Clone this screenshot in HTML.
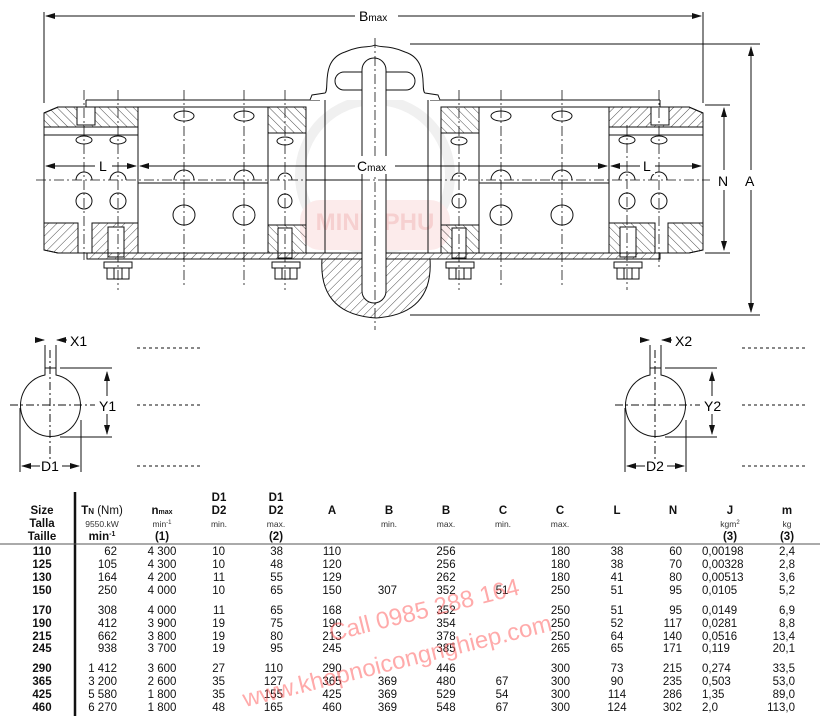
<!DOCTYPE html>
<html><head><meta charset="utf-8"><style>
html,body{margin:0;padding:0;background:#fff;}
body{width:820px;height:725px;position:relative;overflow:hidden;font-family:"Liberation Sans",sans-serif;}
svg{position:absolute;left:0;top:0;}
.t{font-family:"Liberation Sans",sans-serif;font-size:11.5px;fill:#111;}
.b{font-weight:bold;}
.s{font-size:8.5px;fill:#333;}
</style></head><body>
<svg width="820" height="725" viewBox="0 0 820 725">
<defs>
<pattern id="h" width="6" height="6" patternUnits="userSpaceOnUse" patternTransform="rotate(45)"><line x1="0" y1="0" x2="0" y2="6" stroke="#222" stroke-width="0.8"/></pattern>
<pattern id="h2" width="6" height="6" patternUnits="userSpaceOnUse" patternTransform="rotate(-45)"><line x1="0" y1="0" x2="0" y2="6" stroke="#222" stroke-width="0.8"/></pattern>
<marker id="a" markerWidth="10" markerHeight="6" refX="9" refY="3" orient="auto-start-reverse"><path d="M0,0 L10,3 L0,6z" fill="#111"/></marker>
</defs>
<!-- faint logo -->
<circle cx="375" cy="175" r="75" fill="none" stroke="#f0f0f0" stroke-width="10"/>
<rect x="300" y="200" width="150" height="50" rx="20" fill="#fcebeb"/>
<text x="375" y="230" text-anchor="middle" font-size="24" font-weight="bold" fill="#f6d0d0" font-family="Liberation Sans">MINH PHU</text>
<g stroke="#111" stroke-width="1" fill="none">
<!-- Bmax -->
<line x1="44" y1="12" x2="44" y2="103"/>
<line x1="703" y1="12" x2="703" y2="103"/>
<line x1="46" y1="16" x2="355" y2="16" marker-start="url(#a)"/>
<line x1="398" y1="16" x2="701" y2="16" marker-end="url(#a)"/>
<!-- A -->
<line x1="410" y1="44" x2="760" y2="44"/>
<line x1="410" y1="315" x2="760" y2="315"/>
<line x1="751" y1="47" x2="751" y2="170" marker-start="url(#a)"/>
<line x1="751" y1="190" x2="751" y2="312" marker-end="url(#a)"/>
<!-- N -->
<line x1="705" y1="105" x2="730" y2="105"/>
<line x1="705" y1="253" x2="730" y2="253"/>
<line x1="724" y1="108" x2="724" y2="170" marker-start="url(#a)"/>
<line x1="724" y1="190" x2="724" y2="250" marker-end="url(#a)"/>
<!-- sleeve top line -->
<line x1="86" y1="100" x2="320" y2="100"/>
<line x1="86" y1="100" x2="86" y2="107"/>
<line x1="430" y1="100" x2="660" y2="100"/>
<line x1="660" y1="100" x2="660" y2="107"/>
<!-- left hub -->
<path d="M44,113 L58,107 L138,107 L138,253 L58,253 L44,250z"/>
<path d="M44,113 L58,107 L138,107 L138,127 L44,127z" fill="url(#h2)"/>
<line x1="44" y1="135" x2="138" y2="135"/>
<rect x="77" y="107" width="18" height="18" fill="#fff"/>
<path d="M44,223 L78,223 L78,253 L58,253 L44,250z" fill="url(#h)"/>
<rect x="92" y="223" width="46" height="30" fill="url(#h)"/>
<rect x="108" y="227" width="16" height="30" fill="#fff"/>
<!-- middle left block -->
<rect x="138" y="107" width="130" height="146"/>
<line x1="138" y1="183" x2="268" y2="183"/>
<!-- flange left -->
<rect x="268" y="107" width="38" height="146"/>
<rect x="268" y="107" width="38" height="26" fill="url(#h2)"/>
<rect x="268" y="225" width="38" height="28" fill="url(#h2)"/>
<rect x="278" y="228" width="14" height="30" fill="#fff"/>
<!-- right flange -->
<rect x="441" y="107" width="38" height="146"/>
<rect x="441" y="107" width="38" height="26" fill="url(#h2)"/>
<rect x="441" y="225" width="38" height="28" fill="url(#h2)"/>
<rect x="452" y="228" width="14" height="30" fill="#fff"/>
<!-- middle right -->
<rect x="479" y="107" width="130" height="146"/>
<line x1="479" y1="183" x2="609" y2="183"/>
<!-- right hub -->
<path d="M703,113 L689,107 L609,107 L609,253 L689,253 L703,250z"/>
<path d="M703,113 L689,107 L609,107 L609,127 L703,127z" fill="url(#h)"/>
<line x1="609" y1="135" x2="703" y2="135"/>
<rect x="651" y="107" width="18" height="18" fill="#fff"/>
<rect x="609" y="223" width="46" height="30" fill="url(#h2)"/>
<rect x="620" y="227" width="16" height="30" fill="#fff"/>
<path d="M668,223 L703,223 L703,250 L689,253 L668,253z" fill="url(#h2)"/>
<line x1="655" y1="223" x2="655" y2="253"/><line x1="668" y1="223" x2="668" y2="253"/>
<!-- center tubes -->
<line x1="306" y1="107" x2="306" y2="253"/><line x1="325" y1="100" x2="325" y2="253"/>
<line x1="441" y1="107" x2="441" y2="253"/><line x1="428" y1="100" x2="428" y2="253"/>
<line x1="306" y1="180" x2="441" y2="180"/>
<!-- top bump -->
<path d="M310,100 L312,95 L325,93 C330,90 320,60 345,52 C360,45 370,48 375,45 C380,48 390,45 405,52 C430,60 420,90 425,93 L438,95 L440,100" fill="#fff"/>
<rect x="335" y="72" width="80" height="18" rx="9" fill="#fff"/>
<!-- base plate -->
<rect x="87" y="253" width="573" height="6" fill="url(#h)"/>
<!-- bulb -->
<path d="M322,259 L430,259 C432,290 420,315 376,318 C332,315 320,290 322,259z" fill="url(#h)"/>
<rect x="362" y="58" width="24" height="245" rx="12" fill="#fff"/>
<!-- bolts -->
<g id="bolt">
<rect x="104" y="262" width="28" height="6"/><rect x="107" y="268" width="22" height="11"/><line x1="114" y1="268" x2="114" y2="279"/><line x1="122" y1="268" x2="122" y2="279"/>
</g>
<use href="#bolt" x="168"/><use href="#bolt" x="342"/><use href="#bolt" x="510"/>
</g>
<!-- holes -->
<g stroke="#111" stroke-width="1" fill="#fff">
<ellipse cx="84" cy="140" rx="8" ry="4"/><ellipse cx="118" cy="140" rx="8" ry="4"/>
<path d="M76,180 a8,8 0 0 1 16,0"/><path d="M110,180 a8,8 0 0 1 16,0"/>
<circle cx="84" cy="201" r="8"/><circle cx="118" cy="201" r="8"/>
<ellipse cx="184" cy="116" rx="10" ry="5"/><ellipse cx="244" cy="116" rx="10" ry="5"/>
<path d="M174,180 a10,10 0 0 1 20,0"/><path d="M234,180 a10,10 0 0 1 20,0"/>
<ellipse cx="184" cy="215" rx="11" ry="10"/><ellipse cx="244" cy="215" rx="11" ry="10"/>
<ellipse cx="285" cy="141" rx="8" ry="4"/><path d="M278,180 a7,7 0 0 1 14,0"/><circle cx="285" cy="201" r="7"/>
<ellipse cx="459" cy="141" rx="8" ry="4"/><path d="M452,180 a7,7 0 0 1 14,0"/><circle cx="459" cy="201" r="7"/>
<ellipse cx="501" cy="116" rx="10" ry="5"/><ellipse cx="562" cy="116" rx="10" ry="5"/>
<path d="M491,180 a10,10 0 0 1 20,0"/><path d="M552,180 a10,10 0 0 1 20,0"/>
<ellipse cx="501" cy="215" rx="11" ry="10"/><ellipse cx="562" cy="215" rx="11" ry="10"/>
<ellipse cx="627" cy="140" rx="8" ry="4"/><ellipse cx="659" cy="140" rx="8" ry="4"/>
<path d="M619,180 a8,8 0 0 1 16,0"/><path d="M651,180 a8,8 0 0 1 16,0"/>
<circle cx="627" cy="201" r="8"/><circle cx="659" cy="201" r="8"/>
</g>
<!-- center lines -->
<g stroke="#111" stroke-width="0.8" stroke-dasharray="10,3,2,3" fill="none">
<line x1="36" y1="180" x2="710" y2="180"/>
<line x1="375" y1="38" x2="375" y2="330"/>
<line x1="84" y1="90" x2="84" y2="260"/><line x1="118" y1="90" x2="118" y2="290"/>
<line x1="184" y1="90" x2="184" y2="285"/><line x1="244" y1="90" x2="244" y2="285"/>
<line x1="285" y1="90" x2="285" y2="290"/><line x1="459" y1="90" x2="459" y2="290"/>
<line x1="501" y1="90" x2="501" y2="285"/><line x1="562" y1="90" x2="562" y2="285"/>
<line x1="627" y1="125" x2="627" y2="290"/><line x1="659" y1="90" x2="659" y2="270"/>
</g>
<!-- L and Cmax dims -->
<g stroke="#111" stroke-width="1">
<line x1="46" y1="166" x2="95" y2="166" marker-start="url(#a)"/>
<line x1="112" y1="166" x2="136" y2="166" marker-end="url(#a)"/>
<line x1="140" y1="166" x2="355" y2="166" marker-start="url(#a)"/>
<line x1="395" y1="166" x2="607" y2="166" marker-end="url(#a)"/>
<line x1="611" y1="166" x2="640" y2="166" marker-start="url(#a)"/>
<line x1="655" y1="166" x2="701" y2="166" marker-end="url(#a)"/>
</g>
<g fill="#fff"><rect x="356" y="8" width="40" height="16"/><rect x="356" y="156" width="38" height="18"/><rect x="96" y="158" width="14" height="16"/><rect x="641" y="158" width="14" height="16"/></g>
<text x="359" y="21" font-size="14" font-family="Liberation Sans">B<tspan font-size="10">max</tspan></text>
<text x="357" y="171" font-size="14" font-family="Liberation Sans">C<tspan font-size="10">max</tspan></text>
<text x="99" y="171" font-size="14" font-family="Liberation Sans">L</text>
<text x="643" y="171" font-size="14" font-family="Liberation Sans">L</text>
<text x="718" y="186" font-size="14" font-family="Liberation Sans" style="paint-order:stroke" stroke="#fff" stroke-width="4">N</text>
<text x="745" y="186" font-size="14" font-family="Liberation Sans" style="paint-order:stroke" stroke="#fff" stroke-width="4">A</text>
<!-- shaft sections -->
<g stroke="#111" stroke-width="1" fill="none" id="sh">
<path d="M45,375 L45,368 L56,368 L56,375 A30,31 0 1 1 45,375z"/>
<line x1="45" y1="345" x2="45" y2="368"/><line x1="56" y1="345" x2="56" y2="368"/>
<line x1="35" y1="340" x2="44" y2="340" marker-end="url(#a)"/><line x1="67" y1="340" x2="57" y2="340" marker-end="url(#a)"/>
<line x1="60" y1="368" x2="112" y2="368"/><line x1="60" y1="437" x2="112" y2="437"/>
<line x1="107" y1="372" x2="107" y2="396" marker-start="url(#a)"/><line x1="107" y1="414" x2="107" y2="434" marker-end="url(#a)"/>
<line x1="20" y1="408" x2="20" y2="472"/><line x1="81" y1="420" x2="81" y2="472"/>
<line x1="22" y1="466" x2="40" y2="466" marker-start="url(#a)"/><line x1="62" y1="466" x2="79" y2="466" marker-end="url(#a)"/>
<g stroke-dasharray="8,3,2,3"><line x1="10" y1="405" x2="95" y2="405"/><line x1="50" y1="350" x2="50" y2="460"/></g>
<g stroke-dasharray="3,3"><line x1="137" y1="348" x2="200" y2="348"/><line x1="137" y1="405" x2="200" y2="405"/><line x1="137" y1="466" x2="200" y2="466"/></g>
</g>
<use href="#sh" x="605"/>
<g font-family="Liberation Sans" font-size="14">
<text x="70" y="346">X1</text><text x="99" y="411" style="paint-order:stroke" stroke="#fff" stroke-width="4">Y1</text><text x="41" y="471" style="paint-order:stroke" stroke="#fff" stroke-width="4">D1</text>
<text x="675" y="346">X2</text><text x="704" y="411" style="paint-order:stroke" stroke="#fff" stroke-width="4">Y2</text><text x="646" y="471" style="paint-order:stroke" stroke="#fff" stroke-width="4">D2</text>
</g>
<!-- table -->
<line x1="75" y1="492" x2="75" y2="716" stroke="#111" stroke-width="2.5"/>
<line x1="0" y1="544" x2="820" y2="544" stroke="#555" stroke-width="1"/>
<g class="t">
<text class="b" x="42" y="514" text-anchor="middle">Size</text>
<text class="b" x="42" y="527" text-anchor="middle">Talla</text>
<text class="b" x="42" y="540" text-anchor="middle">Taille</text>
<text x="102" y="514" text-anchor="middle"><tspan class="b">T<tspan font-size="8">N</tspan></tspan> (Nm)</text>
<text class="s" x="102" y="527" text-anchor="middle">9550.kW</text>
<text class="b" x="102" y="540" text-anchor="middle">min<tspan font-size="7" dy="-4">-1</tspan></text>
<text class="b" x="162" y="514" text-anchor="middle">n<tspan font-size="7">max</tspan></text>
<text class="s" x="162" y="527" text-anchor="middle">min<tspan font-size="6" dy="-3">-1</tspan></text>
<text class="b" x="162" y="540" text-anchor="middle">(1)</text>
<text class="b" x="219" y="501" text-anchor="middle">D1</text><text class="b" x="219" y="514" text-anchor="middle">D2</text><text class="s" x="219" y="527" text-anchor="middle">min.</text>
<text class="b" x="276" y="501" text-anchor="middle">D1</text><text class="b" x="276" y="514" text-anchor="middle">D2</text><text class="s" x="276" y="527" text-anchor="middle">max.</text><text class="b" x="276" y="540" text-anchor="middle">(2)</text>
<text class="b" x="332" y="514" text-anchor="middle">A</text>
<text class="b" x="389" y="514" text-anchor="middle">B</text><text class="s" x="389" y="527" text-anchor="middle">min.</text>
<text class="b" x="446" y="514" text-anchor="middle">B</text><text class="s" x="446" y="527" text-anchor="middle">max.</text>
<text class="b" x="503" y="514" text-anchor="middle">C</text><text class="s" x="503" y="527" text-anchor="middle">min.</text>
<text class="b" x="560" y="514" text-anchor="middle">C</text><text class="s" x="560" y="527" text-anchor="middle">max.</text>
<text class="b" x="617" y="514" text-anchor="middle">L</text>
<text class="b" x="673" y="514" text-anchor="middle">N</text>
<text class="b" x="730" y="514" text-anchor="middle">J</text><text class="s" x="730" y="527" text-anchor="middle">kgm<tspan font-size="6" dy="-3">2</tspan></text><text class="b" x="730" y="540" text-anchor="middle">(3)</text>
<text class="b" x="787" y="514" text-anchor="middle">m</text><text class="s" x="787" y="527" text-anchor="middle">kg</text><text class="b" x="787" y="540" text-anchor="middle">(3)</text>
</g>
<g class="t" id="rows"></g>
<g font-family="Liberation Sans" font-size="24" fill="#f55" fill-opacity="0.5" transform="rotate(-14 450 620)">
<text x="330" y="612">Call 0985 288 164</text>
<text x="230" y="655">www.khopnoicongnghiep.com</text>
</g>
</svg>
<script>
var d=[["110","62","4 300","10","38","110","","256","","180","38","60","0,00198","2,4",555],
["125","105","4 300","10","48","120","","256","","180","38","70","0,00328","2,8",568],
["130","164","4 200","11","55","129","","262","","180","41","80","0,00513","3,6",581],
["150","250","4 000","10","65","150","307","352","51","250","51","95","0,0105","5,2",594],
["170","308","4 000","11","65","168","","352","","250","51","95","0,0149","6,9",614],
["190","412","3 900","19","75","190","","354","","250","52","117","0,0281","8,8",627],
["215","662","3 800","19","80","213","","378","","250","64","140","0,0516","13,4",640],
["245","938","3 700","19","95","245","","385","","265","65","171","0,119","20,1",652],
["290","1 412","3 600","27","110","290","","446","","300","73","215","0,274","33,5",672],
["365","3 200","2 600","35","127","365","369","480","67","300","90","235","0,503","53,0",685],
["425","5 580","1 800","35","155","425","369","529","54","300","114","286","1,35","89,0",698],
["460","6 270","1 800","48","165","460","369","548","67","300","124","302","2,0","113,0",711]];
var cols=[[42,"middle",1],[117,"end"],[162,"middle"],[225,"end"],[283,"end"],[332,"middle"],[397,"end"],[446,"middle"],[502,"middle"],[570,"end"],[617,"middle"],[682,"end"],[702,"start"],[795,"end"]];
var g=document.getElementById("rows"),s="";
d.forEach(function(r){cols.forEach(function(c,i){if(r[i])s+='<text x="'+c[0]+'" y="'+r[14]+'" text-anchor="'+c[1]+'"'+(c[2]?' font-weight="bold"':'')+'>'+r[i]+'</text>';});});
g.innerHTML=s;
</script>
</body></html>
